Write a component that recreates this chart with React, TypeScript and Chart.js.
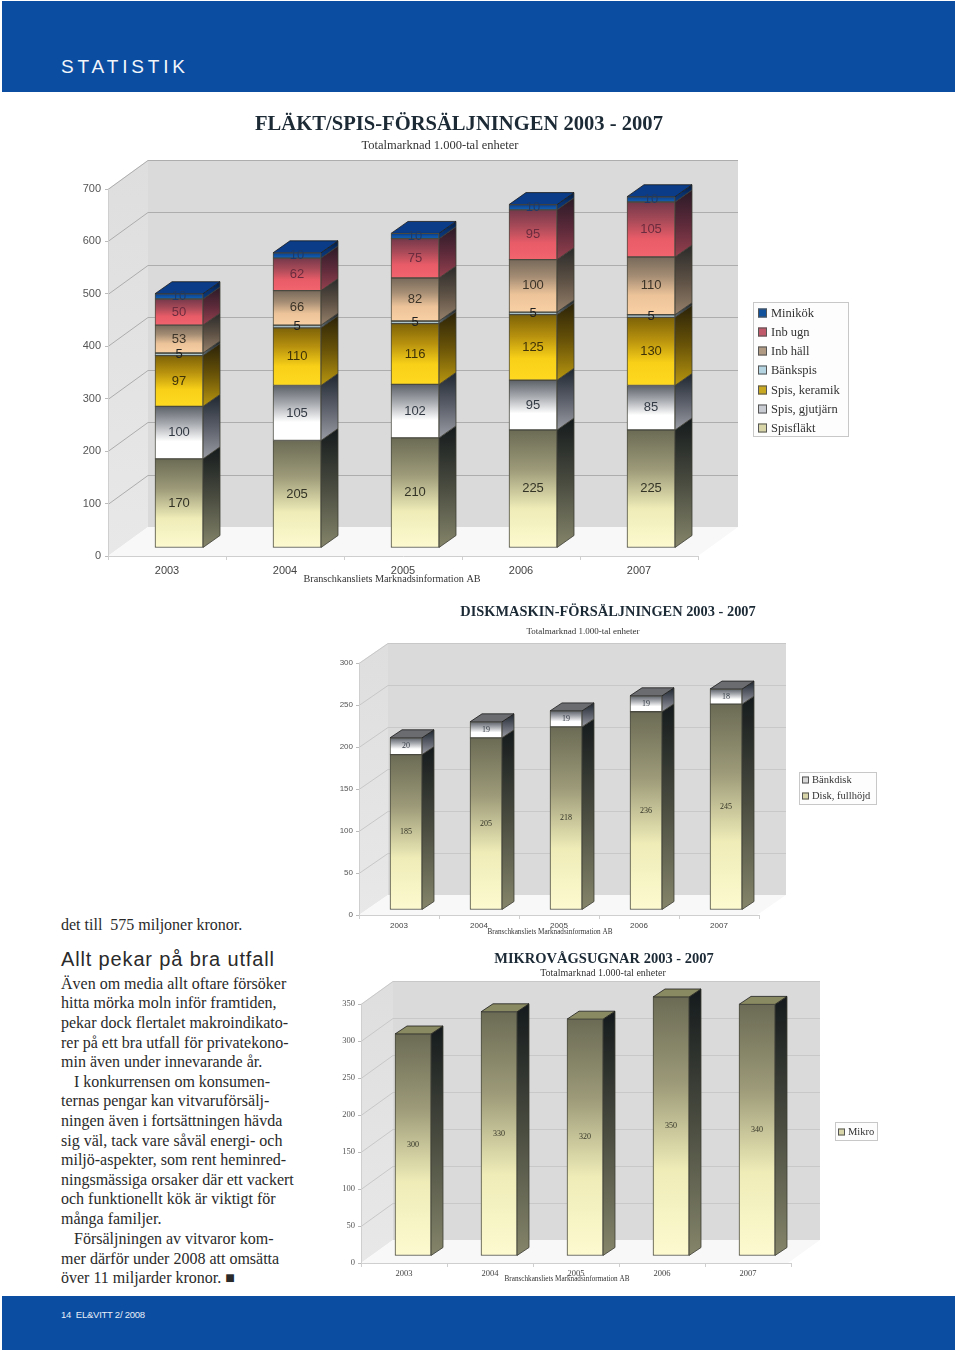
import React, { useEffect, useRef } from "react";
import { Chart, registerables } from "chart.js";

Chart.register(...registerables);

const years = ["2003", "2004", "2005", "2006", "2007"];

const spisflakt = [170, 205, 210, 225, 225];
const spisGjutjarn = [100, 105, 102, 95, 85];
const spisKeramik = [97, 110, 116, 125, 130];
const bankspis = [5, 5, 5, 5, 5];
const inbHall = [53, 66, 82, 100, 110];
const inbUgn = [50, 62, 75, 95, 105];
const minikok = [10, 10, 10, 10, 10];

const diskFullhojd = [185, 205, 218, 236, 245];
const bankdisk = [20, 19, 19, 19, 18];

const mikro = [300, 330, 320, 350, 340];

const palette: Record<string, any> = {
  olive: { front: ["#6b6b55", "#9c9a78", "#efecb8", "#fdfad0"], side: ["#141a1c", "#4a4c40", "#85856a"], text: "#333326", sw: "#d8d6a8" },
  silver: { front: ["#5c6068", "#a8abb0", "#ffffff", "#ffffff"], side: ["#1e2630", "#5a5e68", "#9a9ca4"], text: "#333a44", sw: "#c8ccd2" },
  gold: { front: ["#7d6208", "#b8920e", "#f8d018", "#ffd820"], side: ["#2a2208", "#6a5408", "#b8960f"], text: "#3e3208", sw: "#c8a820" },
  steel: { front: ["#5a6a70", "#8aa0a8", "#b8d0d8", "#d0e6ee"], side: ["#1a2024", "#3a444a", "#66747a"], text: "#222", sw: "#b4d4e2" },
  tan: { front: ["#77695a", "#a58d74", "#edc49a", "#f8d0a4"], side: ["#2a2a2a", "#5c5044", "#96806a"], text: "#3c3428", sw: "#b09a84" },
  red: { front: ["#74384a", "#a84a58", "#e85c68", "#f2646e"], side: ["#2a1a26", "#5c2a3a", "#96404e"], text: "#6a2c3e", sw: "#c05a6a" },
  blue: { front: ["#0a3a80", "#0e4a9a", "#1258a8", "#1258a8"], side: ["#041a3c", "#08306a", "#0a3a80"], text: "#1e3a68", sw: "#12529c" },
};

const fanDatasets = [
  { label: "Spisfläkt", data: spisflakt, p: palette.olive },
  { label: "Spis, gjutjärn", data: spisGjutjarn, p: palette.silver },
  { label: "Spis, keramik", data: spisKeramik, p: palette.gold },
  { label: "Bänkspis", data: bankspis, p: palette.steel },
  { label: "Inb häll", data: inbHall, p: palette.tan },
  { label: "Inb ugn", data: inbUgn, p: palette.red },
  { label: "Minikök", data: minikok, p: palette.blue },
];
const dishDatasets = [
  { label: "Disk, fullhöjd", data: diskFullhojd, p: palette.olive },
  { label: "Bänkdisk", data: bankdisk, p: { ...palette.silver, sw: "#d8d8d8" } },
];
const microDatasets = [{ label: "Mikro", data: mikro, p: palette.olive }];

const fanCfg = {
  box: [60, 100, 820, 500], plot: [108, 698, 189, 556], yMax: 700, step: 100,
  wall: [40, 29, 738], off: [12, -8], depth: [17, 12], barW: 48, xPad: 4,
  title: ["FLÄKT/SPIS-FÖRSÄLJNINGEN 2003 - 2007", 459, 125, 20.6],
  sub: ["Totalmarknad 1.000-tal enheter", 440, 146, 12.5],
  src: ["Branschkansliets Marknadsinformation AB", 392, 579, 10.2],
  legend: { rect: [753, 302, 95, 134], x: 758, textX: 771, ys: [313, 332, 351, 370, 390, 409, 428], size: 12.5, sw: 9 },
  tickFont: { family: "Liberation Sans", size: 11 }, tickPad: 4,
  labelFont: '13px "Liberation Sans"', grid: "#adadad",
};
const dishCfg = {
  box: [330, 600, 560, 340], plot: [359, 759, 663, 915], yMax: 300, step: 50,
  wall: [29, 20, 786], off: [7, -5], depth: [12, 8], barW: 32, xPad: 2,
  title: ["DISKMASKIN-FÖRSÄLJNINGEN 2003 - 2007", 608, 612, 14.4],
  sub: ["Totalmarknad 1.000-tal enheter", 583, 632, 9],
  src: ["Branschkansliets Marknadsinformation AB", 550, 932, 7.2],
  legend: { rect: [799, 772, 77, 32], x: 802, textX: 812, ys: [780, 796], size: 10.5, sw: 7 },
  tickFont: { family: "Liberation Sans", size: 8 }, tickPad: 3,
  labelFont: '8px "Liberation Serif"', grid: "#c8c8c8",
};
const microCfg = {
  box: [330, 945, 570, 345], plot: [361, 791, 1004, 1263], yMax: 350, step: 50,
  wall: [32, 23, 820], off: [9, -7], depth: [12, 8], barW: 36, xPad: 2,
  title: ["MIKROVÅGSUGNAR 2003 - 2007", 604, 959, 14.5],
  sub: ["Totalmarknad 1.000-tal enheter", 603, 973, 10],
  src: ["Branschkansliets Marknadsinformation AB", 567, 1279, 7.2],
  legend: { rect: [835, 1122, 42, 18], x: 838, textX: 848, ys: [1132], size: 10.5, sw: 7 },
  tickFont: { family: "Liberation Serif", size: 8.5 }, tickPad: 3,
  labelFont: '8px "Liberation Serif"', grid: "#c8c8c8",
};

const textLines: [string, number, number][] = [
  ["Även om media allt oftare försöker", 983, 61],
  ["hitta mörka moln inför framtiden,", 1002, 61],
  ["pekar dock flertalet makroindikato-", 1022, 61],
  ["rer på ett bra utfall för privatekono-", 1042, 61],
  ["min även under innevarande år.", 1061, 61],
  ["I konkurrensen om konsumen-", 1081, 74],
  ["ternas pengar kan vitvaruförsälj-", 1100, 61],
  ["ningen även i fortsättningen hävda", 1120, 61],
  ["sig väl, tack vare såväl energi- och", 1140, 61],
  ["miljö-aspekter, som rent heminred-", 1159, 61],
  ["ningsmässiga orsaker där ett vackert", 1179, 61],
  ["och funktionellt kök är viktigt för", 1198, 61],
  ["många familjer.", 1218, 61],
  ["Försäljningen av vitvaror kom-", 1238, 74],
  ["mer därför under 2008 att omsätta", 1258, 61],
  ["över 11 miljarder kronor. ■", 1277, 61],
];

function vGrad(ctx: CanvasRenderingContext2D, top: number, bottom: number, stops: string[]) {
  const g = ctx.createLinearGradient(0, top, 0, bottom);
  stops.forEach((c, i) => g.addColorStop(i / (stops.length - 1), c));
  return g;
}

function Bar3D({ cfg, sets }: { cfg: any; sets: any[] }) {
  const ref = useRef<HTMLCanvasElement>(null);
  useEffect(() => {
    const [bx, by, bw, bh] = cfg.box;
    const [pl, pr, pt, pb] = cfg.plot;
    const [wdx, wdy, wallR] = cfg.wall;
    const [ox, oy] = cfg.off;
    const [ddx, ddy] = cfg.depth;
    const xAxisH = 24;

    const scene = {
      id: "scene3d",
      beforeDraw(chart: any) {
        const c = chart.ctx;
        const a = chart.chartArea;
        const y = chart.scales.y;
        const R = wallR - bx;
        c.save();
        c.fillStyle = vGrad(c, a.top - wdy, a.bottom, ["#dedede", "#e8e8e8"]);
        c.beginPath();
        c.moveTo(a.left, a.top); c.lineTo(a.left + wdx, a.top - wdy);
        c.lineTo(a.left + wdx, a.bottom - wdy); c.lineTo(a.left, a.bottom);
        c.closePath(); c.fill();
        c.fillStyle = "#dadada";
        c.fillRect(a.left + wdx, a.top - wdy, R - a.left - wdx, a.bottom - a.top);
        c.fillStyle = "#f8f8f8";
        c.beginPath();
        c.moveTo(a.left, a.bottom); c.lineTo(a.left + wdx, a.bottom - wdy);
        c.lineTo(R, a.bottom - wdy); c.lineTo(R - wdx, a.bottom);
        c.closePath(); c.fill();
        c.strokeStyle = cfg.grid;
        c.lineWidth = 1;
        y.ticks.forEach((t: any) => {
          if (t.value === 0) return;
          const p = Math.round(y.getPixelForValue(t.value)) + 0.5;
          c.beginPath();
          c.moveTo(a.left, p); c.lineTo(a.left + wdx, p - wdy);
          c.lineTo(R, p - wdy);
          c.stroke();
        });
        c.restore();
      },
      beforeDatasetsDraw(chart: any) {
        const c = chart.ctx;
        c.save();
        c.translate(ox, oy);
        const n = chart.data.datasets.length;
        chart.data.datasets.forEach((ds: any, di: number) => {
          chart.getDatasetMeta(di).data.forEach((el: any) => {
            const right = el.x + el.width / 2;
            const left = el.x - el.width / 2;
            c.fillStyle = vGrad(c, el.y - ddy, el.base, ds.p.side);
            c.beginPath();
            c.moveTo(right, el.y); c.lineTo(right + ddx, el.y - ddy);
            c.lineTo(right + ddx, el.base - ddy); c.lineTo(right, el.base);
            c.closePath(); c.fill();
            c.strokeStyle = "#3c3c34"; c.lineWidth = 0.8; c.stroke();
            if (di === n - 1) {
              c.fillStyle = n === 1 ? "#8a8a62" : n === 2 ? "#6a6c70" : "#0a3c88";
              c.beginPath();
              c.moveTo(left, el.y); c.lineTo(left + ddx, el.y - ddy);
              c.lineTo(right + ddx, el.y - ddy); c.lineTo(right, el.y);
              c.closePath(); c.fill();
              c.strokeStyle = "#1c1c1c"; c.stroke();
            }
          });
        });
      },
      afterDatasetsDraw(chart: any) {
        const c = chart.ctx;
        c.font = cfg.labelFont;
        c.textAlign = "center";
        c.textBaseline = "middle";
        chart.data.datasets.forEach((ds: any, di: number) => {
          c.fillStyle = ds.p.text;
          chart.getDatasetMeta(di).data.forEach((el: any, i: number) => {
            c.fillText(String(ds.data[i]), el.x, (el.y + el.base) / 2);
          });
        });
        c.restore();
      },
      afterDraw(chart: any) {
        const c = chart.ctx;
        c.save();
        c.textAlign = "center";
        c.textBaseline = "middle";
        c.fillStyle = "#1c2a36";
        c.font = `bold ${cfg.title[3]}px "Liberation Serif"`;
        c.fillText(cfg.title[0], cfg.title[1] - bx, cfg.title[2] - by);
        c.fillStyle = "#333";
        c.font = `${cfg.sub[3]}px "Liberation Serif"`;
        c.fillText(cfg.sub[0], cfg.sub[1] - bx, cfg.sub[2] - by);
        c.font = `${cfg.src[3]}px "Liberation Serif"`;
        c.fillText(cfg.src[0], cfg.src[1] - bx, cfg.src[2] - by);
        const L = cfg.legend;
        const [lx, ly, lw, lh] = L.rect;
        c.fillStyle = "#fdfdfd";
        c.strokeStyle = "#c8c8c8";
        c.lineWidth = 1;
        c.fillRect(lx - bx, ly - by, lw, lh);
        c.strokeRect(lx - bx + 0.5, ly - by + 0.5, lw, lh);
        c.textAlign = "left";
        c.font = `${L.size}px "Liberation Serif"`;
        const rev = [...chart.data.datasets].reverse();
        rev.forEach((ds: any, i: number) => {
          const yy = L.ys[i] - by;
          c.fillStyle = ds.p.sw;
          c.fillRect(L.x - bx, yy - L.sw / 2, L.sw, L.sw);
          c.strokeStyle = "#555";
          c.strokeRect(L.x - bx + 0.5, yy - L.sw / 2 + 0.5, L.sw - 1, L.sw - 1);
          c.fillStyle = "#333";
          c.fillText(ds.label, L.textX - bx, yy + 0.5);
        });
        c.restore();
      },
    };

    const chart = new Chart(ref.current as HTMLCanvasElement, {
      type: "bar",
      data: {
        labels: years,
        datasets: sets.map((s, di) => ({
          label: s.label,
          data: s.data,
          p: s.p,
          clip: false,
          barThickness: cfg.barW,
          borderColor: "#4a4a40",
          borderWidth: 1,
          borderSkipped: false,
          backgroundColor: (ctx: any) => {
            const sc = ctx.chart.scales.y;
            const i = ctx.dataIndex;
            if (!sc || typeof i !== "number") return s.p.sw;
            let below = 0;
            for (let k = 0; k < di; k++) below += sets[k].data[i];
            const top = sc.getPixelForValue(below + s.data[i]);
            const bot = sc.getPixelForValue(below);
            if (!isFinite(top) || !isFinite(bot)) return s.p.sw;
            return vGrad(ctx.chart.ctx, top, bot, s.p.front);
          },
        })) as any,
      },
      options: {
        responsive: false,
        animation: false,
        layout: {
          padding: {
            left: 0,
            top: pt - by,
            right: bx + bw - pr,
            bottom: by + bh - pb - xAxisH,
          },
        },
        plugins: { legend: { display: false }, tooltip: { enabled: false }, title: { display: false } },
        scales: {
          x: {
            stacked: true,
            grid: { drawOnChartArea: false, drawTicks: true, tickLength: 4, color: "#cfcfcf" },
            border: { color: "#cfcfcf" },
            ticks: { color: "#444", font: cfg.tickFont, padding: cfg.xPad, autoSkip: false, maxRotation: 0 },
            afterFit: (s: any) => { s.height = xAxisH; },
          },
          y: {
            stacked: true,
            min: 0,
            max: cfg.yMax,
            grid: { drawOnChartArea: false, drawTicks: true, tickLength: 3, color: "#bbb" },
            border: { color: "#cfcfcf" },
            ticks: { stepSize: cfg.step, color: "#555", font: cfg.tickFont, padding: cfg.tickPad },
            afterFit: (s: any) => { s.width = pl - bx; },
          },
        },
      } as any,
      plugins: [scene as any],
    });
    return () => chart.destroy();
  }, []);
  const [x, y, w, h] = cfg.box;
  return (
    <canvas
      ref={ref}
      width={w}
      height={h}
      style={{ position: "absolute", left: x, top: y, width: w, height: h, filter: "blur(0.6px)" }}
    />
  );
}

const serif: React.CSSProperties = {
  position: "absolute",
  fontFamily: '"Liberation Serif", serif',
  fontSize: 16,
  lineHeight: "20px",
  color: "#2a2a2a",
  whiteSpace: "pre",
};

export default function App() {
  return (
    <div style={{ position: "absolute", left: 0, top: 0, width: 960, height: 1354, overflow: "hidden", background: "#fff" }}>
      <div style={{ position: "absolute", left: 2, top: 1, width: 953, height: 91, background: "#0a4da1" }} />
      <div style={{ position: "absolute", left: 61, top: 55, fontFamily: '"Liberation Sans"', fontSize: 19, lineHeight: "24px", letterSpacing: 3.85, color: "#f2f6fb" }}>STATISTIK</div>
      <Bar3D cfg={fanCfg} sets={fanDatasets} />
      <Bar3D cfg={dishCfg} sets={dishDatasets} />
      <Bar3D cfg={microCfg} sets={microDatasets} />
      <div style={{ ...serif, left: 61, top: 915 }}>det till  575 miljoner kronor.</div>
      <div style={{ position: "absolute", left: 61, top: 947, fontFamily: '"Liberation Sans"', fontSize: 20, lineHeight: "24px", letterSpacing: 0.85, color: "#2a2a2a", whiteSpace: "pre" }}>Allt pekar på bra utfall</div>
      {textLines.map(([t, y, x]) => (
        <div key={y} style={{ ...serif, left: x, top: y - 9 }}>{t}</div>
      ))}
      <div style={{ position: "absolute", left: 2, top: 1296, width: 953, height: 54, background: "#0a4da1" }} />
      <div style={{ position: "absolute", left: 61, top: 1308, fontFamily: '"Liberation Sans"', fontSize: 9.5, lineHeight: "14px", letterSpacing: -0.25, color: "#e8eef8", whiteSpace: "pre" }}>14  EL&VITT 2/ 2008</div>
    </div>
  );
}
